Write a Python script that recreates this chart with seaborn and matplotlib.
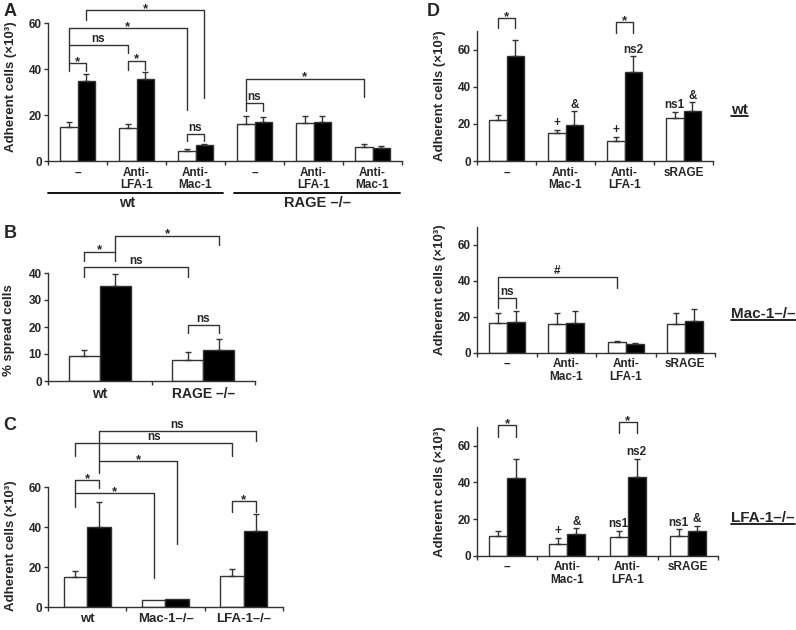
import numpy as np
import pandas as pd
import matplotlib.pyplot as plt
import seaborn as sns
from matplotlib.lines import Line2D

# ---- panel A: adherent cells, wt vs RAGE-/- ----
A_keys = ['a0', 'a1', 'a2', 'a3', 'a4', 'a5']
A_ticks = ['–', 'Anti-\nLFA-1', 'Anti-\nMac-1', '–', 'Anti-\nLFA-1', 'Anti-\nMac-1']
A_white = [14.8, 14.5, 4.2, 15.9, 16.4, 5.9]
A_white_err = [2.3, 1.5, 1.2, 3.8, 3.0, 1.3]
A_black = [34.8, 35.8, 6.8, 17.1, 17.1, 5.7]
A_black_err = [2.9, 2.7, 0.6, 2.2, 2.6, 0.8]

# ---- panel B: % spread cells ----
B_keys = ['wt', 'RAGE –/–']
B_white = [9.1, 7.6]
B_white_err = [2.3, 3.1]
B_black = [35.2, 11.6]
B_black_err = [4.4, 4.0]

# ---- panel C: knockouts ----
C_keys = ['wt', 'Mac-1–/–', 'LFA-1–/–']
C_white = [15.2, 3.5, 15.7]
C_white_err = [3.0, 0.0, 3.1]
C_black = [39.8, 4.2, 38.0]
C_black_err = [12.9, 0.0, 8.3]

# ---- panel D: three genotypes ----
D_keys = ['d0', 'd1', 'd2', 'd3']
D_ticks = ['–', 'Anti-\nMac-1', 'Anti-\nLFA-1', 'sRAGE']
D1_white = [22.3, 15.1, 10.6, 23.2]
D1_white_err = [2.7, 1.8, 2.3, 3.0]
D1_black = [56.4, 19.6, 47.8, 27.1]
D1_black_err = [9.0, 7.2, 8.6, 4.5]
D2_white = [16.3, 15.7, 5.7, 15.7]
D2_white_err = [5.6, 6.2, 0.6, 6.5]
D2_black = [17.1, 16.7, 4.6, 17.4]
D2_black_err = [6.2, 6.6, 1.0, 7.0]
D3_white = [10.9, 6.4, 10.4, 10.9]
D3_white_err = [2.7, 3.1, 3.2, 3.5]
D3_black = [42.5, 12.0, 43.0, 13.6]
D3_black_err = [10.5, 2.9, 10.0, 2.6]

sns.set_style('ticks')
plt.rcParams['font.family'] = ['Liberation Sans', 'DejaVu Sans']
plt.rcParams['font.weight'] = 'bold'

W, H = 796, 630
LC = '#333333'
fig = plt.figure(figsize=(W / 100, H / 100), dpi=100)


def rect(x0, x1, yt, yb):
    return [x0 / W, 1 - yb / H, (x1 - x0) / W, (yb - yt) / H]


def fx(x):
    return x / W


def fy(y):
    return 1 - y / H


def bars(ax, keys, white, werr, black, berr, ylim, yticks, ticklabels, tfs):
    n = len(keys)
    df = pd.DataFrame({'cond': keys * 2,
                       'grp': ['ctrl'] * n + ['stim'] * n,
                       'val': white + black})
    sns.barplot(data=df, x='cond', y='val', hue='grp', order=keys,
                hue_order=['ctrl', 'stim'], palette=['white', 'black'],
                edgecolor=LC, linewidth=1, width=0.6, errorbar=None,
                legend=False, ax=ax)
    pos = np.arange(n)
    for off, vals, errs in [(-0.15, white, werr), (0.15, black, berr)]:
        for p, v, e in zip(pos, vals, errs):
            if e > 0:
                ax.errorbar(p + off, v, yerr=[[0], [e]], fmt='none', ecolor=LC,
                            elinewidth=1, capsize=2, capthick=1, zorder=3)
    ax.set_xlim(-0.5, n - 0.5)
    ax.set_ylim(*ylim)
    ax.set_yticks(yticks)
    ax.set_xticks(pos)
    ax.set_xticklabels(ticklabels, fontsize=tfs, fontweight='bold', linespacing=1.05)
    ax.set_xticks(np.arange(-0.5, n), minor=True)
    ax.tick_params(axis='x', which='major', length=0, pad=4)
    ax.tick_params(axis='x', which='minor', length=3, width=1, color=LC, direction='out')
    ax.tick_params(axis='y', length=3, width=1, color=LC, pad=1.5, labelsize=8.5)
    for lab in ax.get_yticklabels():
        lab.set_fontweight('bold')
    ax.set_xlabel('')
    ax.set_ylabel('')
    for s in ['top', 'right']:
        ax.spines[s].set_visible(False)
    for s in ['left', 'bottom']:
        ax.spines[s].set_color(LC)
        ax.spines[s].set_linewidth(1)
    ax.patch.set_alpha(0)


def bracket(ax, x1, x2, ytop, yb1, yb2, label, fs=8.5):
    ax.plot([x1, x1, x2, x2], [yb1, ytop, ytop, yb2], color=LC, lw=1,
            clip_on=False, zorder=4)
    if label == '*':
        fs, dy = 9.5, -3.5
    else:
        dy = 0
    ax.annotate(label, ((x1 + x2) / 2, ytop), xytext=(0, dy),
                textcoords='offset points', ha='center', va='bottom',
                fontsize=fs, fontweight='bold', annotation_clip=False)


def mark(ax, x, y, label, fs=8.5):
    ax.text(x, y, label, ha='center', va='bottom', fontsize=fs,
            fontweight='bold', clip_on=False)


# ---------------- panel A ----------------
axA = fig.add_axes(rect(48, 402, 23, 161))
bars(axA, A_keys, A_white, A_white_err, A_black, A_black_err,
     (0, 60), [0, 20, 40, 60], A_ticks, 8.5)
bracket(axA, -0.15, 0.15, 42.6, 39.0, 39.0, '*')
bracket(axA, -0.15, 0.85, 50.6, 42.6, 47.0, 'ns')
bracket(axA, 0.85, 1.15, 43.6, 39.7, 39.7, '*')
bracket(axA, -0.15, 1.85, 57.8, 50.6, 22.3, '*')
bracket(axA, 0.15, 2.15, 65.5, 61.5, 27.4, '*')
bracket(axA, 1.85, 2.15, 11.9, 8.6, 8.6, 'ns')
bracket(axA, 2.85, 3.15, 25.2, 21.6, 21.6, 'ns')
bracket(axA, 2.85, 4.85, 35.8, 25.2, 28.0, '*')
fig.add_artist(Line2D([fx(48), fx(223)], [fy(193), fy(193)], color='black', lw=1.3))
fig.add_artist(Line2D([fx(234), fx(400)], [fy(193), fy(193)], color='black', lw=1.3))
fig.text(fx(127), fy(203), 'wt', ha='center', va='center', fontsize=10.5, fontweight='bold')
fig.text(fx(317), fy(203), 'RAGE –/–', ha='center', va='center', fontsize=10.5, fontweight='bold')
fig.text(fx(10), fy(11), 'A', ha='center', va='center', fontsize=13, fontweight='bold')
fig.text(fx(11), fy(87), 'Adherent cells (×10³)', rotation=90, ha='center', va='center',
         fontsize=9.5, fontweight='bold')

# ---------------- panel B ----------------
axB = fig.add_axes(rect(48, 255, 273, 381))
bars(axB, B_keys, B_white, B_white_err, B_black, B_black_err,
     (0, 40), [0, 10, 20, 30, 40], B_keys, 10)
bracket(axB, -0.15, 0.15, 47.9, 44.5, 44.5, '*')
bracket(axB, -0.15, 0.85, 42.1, 38.5, 38.5, 'ns')
bracket(axB, 0.15, 1.15, 53.8, 47.9, 50.4, '*')
bracket(axB, 0.85, 1.15, 20.7, 17.7, 17.7, 'ns')
fig.text(fx(10), fy(234), 'B', ha='center', va='center', fontsize=13, fontweight='bold')
fig.text(fx(9), fy(330), '% spread cells', rotation=90, ha='center', va='center',
         fontsize=9.5, fontweight='bold')

# ---------------- panel C ----------------
axC = fig.add_axes(rect(48, 283, 487, 607))
bars(axC, C_keys, C_white, C_white_err, C_black, C_black_err,
     (0, 60), [0, 20, 40, 60], C_keys, 9.5)
bracket(axC, -0.15, 0.15, 63.5, 57.0, 59.5, '*')
bracket(axC, -0.15, 0.85, 57.0, 50.0, 14.5, '*')
bracket(axC, 0.15, 1.15, 73.0, 67.0, 31.5, '*')
bracket(axC, -0.15, 1.85, 82.0, 75.7, 75.7, 'ns')
bracket(axC, 0.15, 2.15, 88.0, 73.0, 83.0, 'ns')
bracket(axC, 1.85, 2.15, 53.0, 47.7, 47.7, '*')
fig.text(fx(10), fy(426), 'C', ha='center', va='center', fontsize=13, fontweight='bold')
fig.text(fx(11), fy(546), 'Adherent cells (×10³)', rotation=90, ha='center', va='center',
         fontsize=9.5, fontweight='bold')

# ---------------- panel D ----------------
axD1 = fig.add_axes(rect(477, 713, 31, 161))
bars(axD1, D_keys, D1_white, D1_white_err, D1_black, D1_black_err,
     (0, 70), [0, 20, 40, 60], D_ticks, 8.5)
bracket(axD1, -0.15, 0.15, 77.0, 71.6, 71.6, '*')
bracket(axD1, 1.85, 2.15, 74.6, 69.0, 69.0, '*')
mark(axD1, 0.85, 17.3, '+')
mark(axD1, 1.15, 27.0, '&')
mark(axD1, 1.85, 13.3, '+')
mark(axD1, 2.15, 56.8, 'ns2')
mark(axD1, 2.85, 26.8, 'ns1')
mark(axD1, 3.15, 32.0, '&')

axD2 = fig.add_axes(rect(477, 715, 226.7, 352.7))
bars(axD2, D_keys, D2_white, D2_white_err, D2_black, D2_black_err,
     (0, 70), [0, 20, 40, 60], D_ticks, 8.5)
bracket(axD2, -0.15, 0.15, 30.4, 24.8, 24.8, 'ns')
bracket(axD2, -0.15, 1.85, 41.9, 30.4, 35.8, '#')

axD3 = fig.add_axes(rect(477, 718, 427.4, 555.7))
bars(axD3, D_keys, D3_white, D3_white_err, D3_black, D3_black_err,
     (0, 70), [0, 20, 40, 60], D_ticks, 8.5)
bracket(axD3, -0.15, 0.15, 71.3, 64.8, 64.8, '*')
bracket(axD3, 1.85, 2.15, 73.0, 67.0, 67.0, '*')
mark(axD3, 0.85, 10.0, '+')
mark(axD3, 1.15, 15.3, '&')
mark(axD3, 1.85, 14.0, 'ns1')
mark(axD3, 2.15, 53.5, 'ns2')
mark(axD3, 2.85, 14.8, 'ns1')
mark(axD3, 3.15, 16.6, '&')

fig.text(fx(433), fy(12), 'D', ha='center', va='center', fontsize=13, fontweight='bold')
for yc in [96, 290, 492]:
    fig.text(fx(440), fy(yc), 'Adherent cells (×10³)', rotation=90, ha='center',
             va='center', fontsize=9.5, fontweight='bold')

side = [('wt', 110), ('Mac-1–/–', 314), ('LFA-1–/–', 518)]
side_txt = []
for s, yc in side:
    side_txt.append(fig.text(fx(731), fy(yc), s, ha='left', va='center',
                             fontsize=11, fontweight='bold'))
fig.canvas.draw()
rend = fig.canvas.get_renderer()
for t in side_txt:
    bb = t.get_window_extent(rend)
    yline = (bb.y0 + 1) / H
    fig.add_artist(Line2D([bb.x0 / W, bb.x1 / W], [yline, yline], color='black', lw=1.2))

fig.savefig('out.png', dpi=100)
